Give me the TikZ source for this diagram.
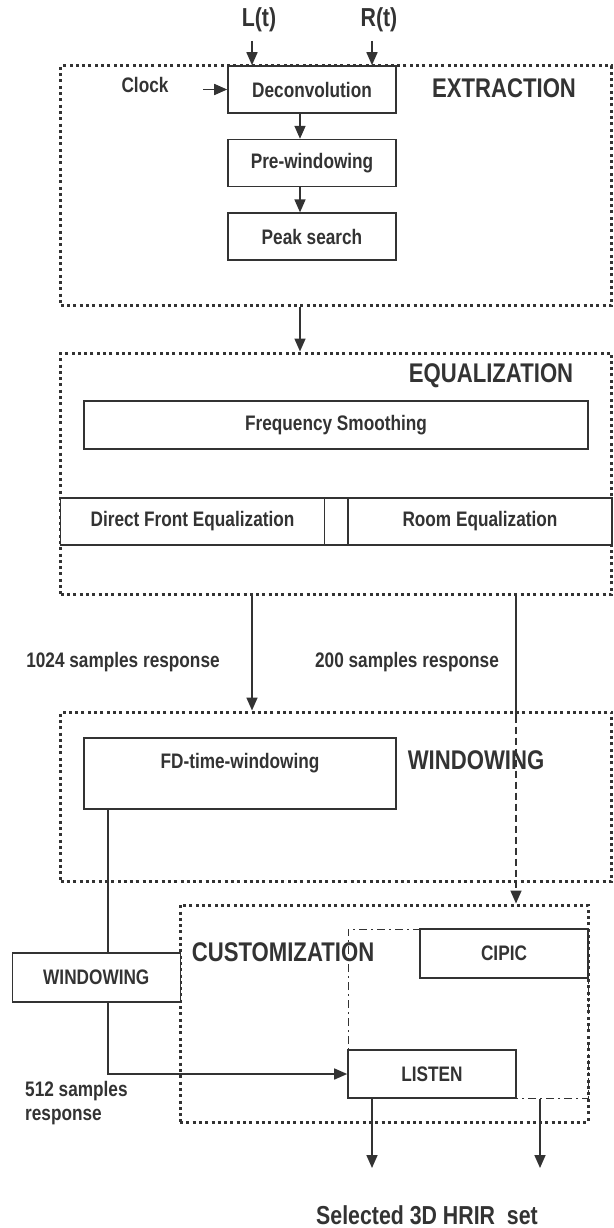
\documentclass[tikz,border=0pt]{standalone}
\usepackage{fontspec}
\setmainfont[FakeStretch=0.82]{Liberation Sans}
\usetikzlibrary{arrows.meta,positioning}
\definecolor{ink}{HTML}{333333}

\begin{document}
\begin{tikzpicture}[x=1pt,y=-1pt]
\tikzstyle{every node}=[font=\fontsize{21pt}{24pt}\selectfont\bfseries, text=ink]
\tikzstyle{group}=[draw=ink, line width=3pt, dash pattern=on 3pt off 3.3pt, inner sep=0pt]
\tikzstyle{block}=[draw=ink, line width=1.6pt, fill=white, inner sep=0pt, minimum height=47pt]
\tikzstyle{flow}=[draw=ink, line width=1.6pt, -{Triangle[length=13pt,width=11pt]}]
\tikzstyle{wire}=[draw=ink, line width=1.6pt]
\tikzstyle{head}=[font=\fontsize{27pt}{30pt}\selectfont\bfseries]
\tikzstyle{big}=[font=\fontsize{26pt}{30pt}\selectfont\bfseries]
\useasboundingbox (0,0) rectangle (613,1228);

% dotted groups
\node[group, minimum width=551pt, minimum height=239pt] (extr) at (336.3,185.5) {};
\node[group, minimum width=551pt, minimum height=241pt] (eq) at (336.3,473.5) {};
\node[group, minimum width=551pt, minimum height=169pt] (win) at (336.3,796.5) {};
\node[group, minimum width=408pt, minimum height=217pt] (cust) at (384,1013.5) {};

% extraction
\node[big] (lt) at (259,20) {L(t)};
\node[big] (rt) at (379,20) {R(t)};
\node[block, minimum width=168pt] (deconv) at (312,89.5) {Deconvolution};
\node[block, minimum width=168pt, below=25pt of deconv] (prewin) {Pre-windowing};
\node[block, minimum width=168pt, below=25pt of prewin] (peak) {Peak search};
\node (clock) at (145,85) {Clock};
\node[head] (lblextr) at (504,88) {EXTRACTION};

% equalization
\node[head] (lbleq) at (491,376) {EQUALIZATION};
\node[block, minimum width=504pt, minimum height=48pt] (freq) at (336,425) {Frequency Smoothing};
\node[block, minimum width=264pt] (dfe) at (192.5,521.5) {Direct Front Equalization};
\node[block, minimum width=23.5pt] (mid) at (336.3,521.5) {};
\node[block, minimum width=264pt] (room) at (480,521.5) {Room Equalization};

\node (s1024) at (123,662) {1024 samples response};
\node (s200) at (407,662) {200 samples response};

% windowing
\node[block, minimum width=312pt, minimum height=0pt, text height=30.5pt, text depth=40.5pt] (fd) at (240,773.5) {FD-time-windowing};
\node[head] (lblwin) at (476,760) {WINDOWING};

% customization
\node[head] (lblcust) at (283,952) {CUSTOMIZATION};
\node[block, minimum width=168pt, minimum height=49pt] (wbox) at (96.3,977.5) {WINDOWING};
\node[anchor=north west, align=left, inner sep=0pt] (s512) at (25,1081) {512 samples\\response};
\draw[ink, line width=1pt, dash pattern=on 8pt off 4pt on 2pt off 4pt] (348,1098) rectangle (588,929);
\node[block, minimum width=168pt, minimum height=49pt] (cipic) at (504,953.5) {CIPIC};
\node[block, minimum width=168pt, minimum height=48pt] (listen) at (432,1074) {LISTEN};
\node[big] (sel) at (427,1215) {Selected 3D HRIR\ \ set};

% free ends
\coordinate (lin) at (252,41);
\coordinate (rin) at (372,41);
\coordinate (clkin) at (203,89.5);
\coordinate (xa) at (300,0);
\coordinate (xb) at (516,0);
\coordinate (xc) at (252,0);
\coordinate (xd) at (108,0);
\coordinate (o1) at (372,1168);
\coordinate (o2) at (540,1168);

% connectors
\draw[flow] (lin) -- (lin |- deconv.north);
\draw[flow] (rin) -- (rin |- deconv.north);
\draw[flow] (clkin) -- (deconv.west);
\draw[flow] (deconv.south -| xa) -- (prewin.north -| xa);
\draw[flow] (prewin.south -| xa) -- (peak.north -| xa);
\draw[flow] (extr.south -| xa) -- (eq.north -| xa);
\draw[flow] (eq.south -| xc) -- (win.north -| xc);
\draw[wire] (eq.south -| xb) -- ([yshift=-5pt]win.north -| xb);
\draw[flow, dash pattern=on 7pt off 4pt] ([yshift=-5pt]win.north -| xb) -- (cust.north -| xb);
\draw[wire] (fd.south -| xd) -- (wbox.north -| xd);
\draw[flow] (wbox.south -| xd) |- (listen.west);
\draw[flow] (listen.south -| o1) -- (o1);
\draw[flow] (o2 |- listen.south) -- (o2);

\end{tikzpicture}
\end{document}
